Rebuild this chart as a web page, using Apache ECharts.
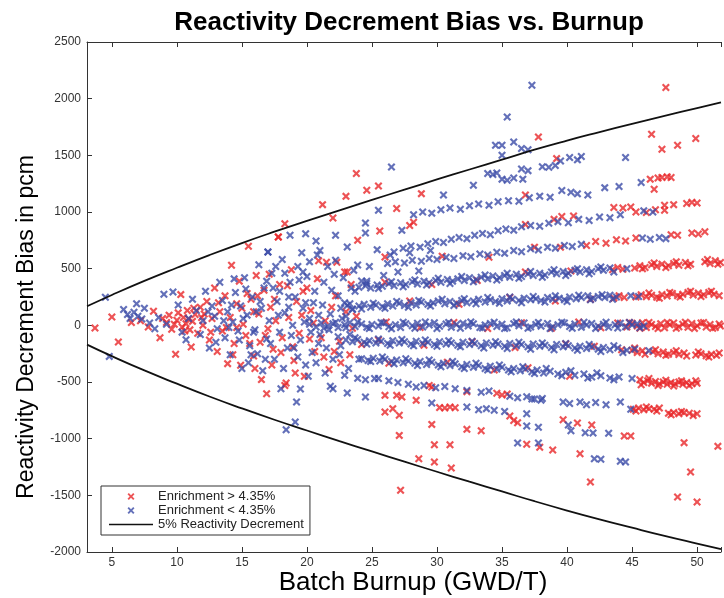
<!DOCTYPE html>
<html>
<head>
<meta charset="utf-8">
<script src="https://cdn.jsdelivr.net/npm/echarts@6/dist/echarts.min.js"></script>
<style>
html,body{margin:0;padding:0;background:#fff;}
#chart{width:724px;height:598px;}
</style>
</head>
<body>
<div id="chart"></div>
<script>
// burnup (GWD/T), bias (pcm)
const redCluster = [[3.7,-24],[5.0,74],[5.5,-147],[6.5,25],[7.2,40],[7.8,-15],[8.2,124],[8.7,-109],[8.9,60],[9.2,25],[9.4,90],[9.6,-35],[9.9,-256],[10.0,45],[10.1,110],[10.3,271],[10.4,-15],[10.5,70],[10.7,15],[10.8,130],[11.0,-40],[11.1,-191],[11.2,35],[11.4,95],[11.6,-70],[11.8,160],[12.0,0],[12.3,210],[12.5,-130],[12.7,60],[12.9,330],[13.1,-230],[13.3,120],[13.5,-50],[13.7,260],[13.9,-338],[14.1,70],[14.2,530],[14.4,-160],[14.6,190],[14.8,390],[14.9,-353],[15.1,10],[15.3,-90],[15.5,697],[15.7,230],[15.9,-270],[16.1,440],[16.3,100],[16.5,-479],[16.7,310],[16.9,-603],[17.0,-30],[17.2,160],[17.4,-210],[17.8,780],[17.9,360],[18.1,-110],[18.3,897],[18.3,-530],[18.4,-509],[18.6,70],[18.8,490],[19.0,-310],[19.2,210],[19.4,-70],[19.8,-450],[20.0,330],[20.3,130],[20.6,-230],[20.9,570],[21.4,40],[21.7,-390],[22.2,260],[22.5,-140],[22.9,470],[23.3,-260],[23.8,80],[21.5,556],[22.3,556],[23.1,470],
    [11.9,70],[12.6,-60],[13.2,200],[13.8,-20],[14.3,-260],[15.0,150],[15.6,-160],[16.2,260],[16.8,-90],[17.5,230],[18.0,-240],[18.5,350],[19.1,-420],[19.6,90],[20.2,-120],[20.8,410],[21.3,-280],[21.9,160],[22.6,-330],[23.4,360],[17.1,450],[16.0,-380],[9.8,10],[10.6,-50],[10.9,55],[11.3,150],[12.1,100],
    [14.6,-20],[15.4,280],[16.4,-150],[17.6,40],[18.9,-190],[19.7,300],[20.5,20],[21.1,-110],[22.1,-230],[23.0,120],[24.2,-170],[17.3,-350],[15.9,120]];
const blueCluster = [[4.5,247],[4.8,-274],[5.9,140],[6.2,95],[6.4,60],[6.7,115],[6.9,190],[7.0,80],[7.3,55],[7.5,150],[7.9,20],[8.3,-30],[8.6,70],[9.0,274],[9.2,10],[9.7,294],[10.1,180],[10.4,-60],[10.7,-127],[10.9,60],[11.2,230],[11.5,130],[11.8,-80],[12.0,40],[12.2,300],[12.5,-200],[12.7,170],[12.9,80],[13.1,-30],[13.3,380],[13.5,220],[13.7,-110],[13.9,120],[14.1,-260],[14.3,30],[14.5,290],[14.7,-50],[14.9,170],[15.0,-380],[15.2,420],[15.4,90],[15.6,-180],[15.8,250],[16.0,-40],[16.2,-250],[16.3,535],[16.5,150],[16.7,330],[16.9,-120],[17.0,647],[17.1,40],[17.3,460],[17.5,-300],[17.7,210],[17.9,-60],[18.0,-560],[18.1,580],[18.3,110],[18.5,-200],[18.7,380],[18.9,0],[19.1,250],[19.2,-677],[19.1,-853],[18.4,-921],[19.3,520],[19.5,-130],[19.5,-562],[19.7,150],[19.9,-350],[20.0,430],[20.2,60],[20.4,-240],[20.6,300],[20.8,620],[21.0,-80],[21.2,180],[21.4,-420],[21.6,520],[21.8,100],[22.0,-300],[22.2,574],[22.4,260],[22.6,-180],[22.8,420],[23.0,80],[23.2,-380],[23.4,330],[23.6,485],[23.9,533],[24.2,392],[24.6,390],[21.0,660],[20.2,560],[19.6,640],[21.8,-538],[22.0,-560],[23.1,-597],[24.5,-633],[23.9,-468],[24.5,-480],[25.2,-470],
    [12.4,120],[13.0,-150],[13.6,40],[14.2,180],[14.8,-130],[15.3,320],[15.9,-60],[16.4,210],[16.8,-300],[17.4,330],[17.8,90],[18.2,-380],[18.6,250],[19.0,-200],[19.4,400],[19.8,30],[20.1,-450],[20.5,200],[20.9,-160],[21.3,380],[21.7,-40],[22.1,450],[22.5,-260],[22.9,200],[23.3,-80],[23.7,300],[18.3,460],[19.7,470],[17.6,520],[16.6,-400],[15.5,-330],[14.4,410],[21.9,310],[22.7,60],[20.7,-330],
    [14.0,-20],[15.1,60],[16.1,120],[17.2,-160],[18.8,-90],[19.9,200],[20.9,90],[21.5,-200],[22.4,-100],[23.5,140],[24.0,-300],[17.9,300],[16.9,390],[15.7,-260],[20.3,-60],[19.3,-280],[18.6,160],[22.9,-440],
    [24.8,520],[25.9,440],[26.4,620],[27.0,470],[27.9,640],[28.6,480],[29.5,660]];
const redOutliers = [[17.8,780],[21.2,1065],[22.0,947],[23.0,1138],[23.8,1339],[23.9,750],[24.6,1192],[25.5,1230],[25.6,833],[26.0,603],[26.9,1030],[27.9,880],[28.2,910],[28.8,1162],[36.8,1150],[37.8,1662],[39.2,1471],[46.5,1686],[47.3,1553],[48.5,1589],[49.9,1648],[47.6,2098],[26.0,-765],[26.6,-735],[27.1,-794],[27.1,-971],[27.2,-1456],[28.6,-1177],[29.8,-1053],[29.8,-1206],[31.0,-1053],[31.1,-1259],[36.9,-1050],[37.9,-1075],[38.9,-1100],[41.0,-1133],[41.8,-1383],[49.0,-1035],[49.5,-1294],[48.5,-1515],[50.0,-1559],[51.6,-1068]];
const blueOutliers = [[17.0,647],[18.7,794],[19.9,809],[20.7,744],[22.2,794],[23.1,691],[24.5,903],[24.5,815],[25.4,668],[25.5,1015],[26.5,1397],[26.7,647],[27.3,838],[34.5,1589],[35.0,1589],[35.0,1500],[35.9,1618],[36.5,1560],[37.0,1550],[35.4,1838],[37.3,2118],[44.5,1480],[36.2,-1038],[37.8,-1038],[42.1,-1177],[42.6,-1182],[44.1,-1200],[44.5,-1206],[29.6,-686],[37.3,-650],[38.0,-660]];

const blueBand0 = [[20.2,10],[20.7,-15],[21.1,20],[21.6,-5],[22.0,15],[22.4,-20],[22.9,5],[23.3,25],[23.7,-10],[24.2,12],[24.6,-18],[25.0,8],[25.5,-5],[25.9,20],[26.3,-12],[26.8,6],[27.2,-20],[27.6,14],[28.1,-4],[28.5,18],[28.9,-14],[29.4,3],[29.8,22],[30.2,-9],[30.7,11],[31.1,-17],[31.5,7],[32.0,19],[32.4,-6],[32.8,13],[33.3,-19],[33.7,4],[34.1,16],[34.6,-11],[35.0,9],[35.4,-21],[35.9,15],[36.3,-3],[36.7,20],[37.2,-15],[37.6,8],[38.0,-7],[38.5,17],[38.9,-13],[39.3,5],[39.8,21],[40.2,-10],[40.6,12],[41.1,-18],[41.5,3],[41.9,16],[42.4,-8],[42.8,10],[43.2,-16],[43.7,6],[44.1,18],[44.5,-12],[45.0,4],[45.4,14],[45.9,-6],
    [21.3,-25],[22.2,28],[23.0,-22],[23.9,30],[24.8,-28],[25.7,25],[26.5,-30],[27.4,28],[28.3,-25],[29.1,30],[30.0,-28],[30.9,26],[31.8,-26],[32.6,30],[33.5,-24],[34.4,28],[35.2,-28],[36.1,30],[37.0,-26],[37.8,26],[38.7,-29],[39.6,28],[40.4,-25],[41.3,28],[42.2,-27],[43.0,28],[43.9,-24],[44.8,26],[45.6,-22]];
const redBand0 = [[23.5,-25],[26.1,30],[28.7,-20],[31.3,25],[33.9,-28],[36.5,22],[38.8,-25],[40.9,30],[42.6,-22],[43.9,20],[44.6,-15],[45.0,18],[45.4,-5],[45.8,22],[46.1,-20],[46.5,8],[46.8,-10],[47.2,15],[47.5,-22],[47.9,5],[48.2,20],[48.6,-12],[48.9,10],[49.3,-18],[49.6,16],[50.0,-4],[50.3,21],[50.7,-14],[51.0,7],[51.4,-20],[51.7,12],
    [44.8,25],[45.6,-25],[46.3,25],[47.0,-28],[47.7,26],[48.4,-26],[49.1,27],[49.8,-27],[50.5,25],[51.2,-25],[51.8,-5]];
const blueBandP1 = [[22.6,150],[23.1,175],[23.5,145],[24.0,170],[24.4,185],[24.9,160],[25.3,180],[25.8,165],[26.2,190],[26.6,170],[27.1,195],[27.5,175],[28.0,200],[28.4,180],[28.8,205],[29.3,185],[29.7,200],[30.1,215],[30.6,190],[31.0,210],[31.5,195],[31.9,220],[32.3,200],[32.8,215],[33.2,230],[33.7,205],[34.1,225],[34.5,210],[35.0,235],[35.4,215],[35.8,230],[36.3,220],[36.7,240],[37.2,225],[37.6,235],[38.0,220],[38.5,245],[38.9,230],[39.4,240],[39.8,225],[40.2,250],[40.7,235],[41.1,245],[41.6,260],[42.0,240],[42.4,255],[42.9,245],[43.3,265],[43.8,250],[44.9,262],[45.5,255],
    [23.3,190],[24.2,145],[25.1,195],[26.0,150],[26.9,210],[27.8,160],[28.6,220],[29.5,170],[30.4,230],[31.3,175],[32.1,235],[33.0,190],[33.9,245],[34.8,195],[35.6,250],[36.5,200],[37.4,255],[38.3,205],[39.1,260],[40.0,210],[40.9,265],[41.8,225],[42.7,270],[43.5,230]];
const redBandP1 = [[27.9,215],[31.7,185],[35.6,245],[39.1,215],[41.8,230],[43.6,240],[44.0,262],[44.4,245],[45.3,250],[45.7,270],[46.1,252],[46.5,265],[46.9,248],[47.3,272],[47.7,258],[48.1,280],[48.5,262],[48.9,275],[49.3,290],[49.7,268],[50.1,285],[50.5,270],[50.9,290],[51.3,275],
    [46.3,285],[47.1,240],[47.9,290],[48.7,250],[49.5,300],[50.3,255],[51.1,300],[51.7,262]];
const blueBandP2 = [[24.0,335],[24.5,350],[24.9,330],[25.4,355],[25.8,345],[26.3,370],[26.7,350],[27.2,375],[27.6,360],[28.1,385],[28.5,365],[29.0,390],[29.4,375],[29.9,395],[30.3,380],[30.8,405],[31.2,390],[31.6,410],[32.1,395],[32.5,420],[33.0,405],[33.4,425],[33.9,410],[34.3,435],[34.8,420],[35.2,440],[35.6,425],[36.1,450],[36.5,430],[37.0,455],[37.4,440],[37.9,460],[38.3,445],[38.8,470],[39.2,455],[39.7,475],[40.1,460],[40.6,485],[41.0,470],[41.5,490],[41.9,475],[42.4,500],[42.8,485],[43.3,505],[44.6,500],
    [24.6,370],[25.5,325],[26.5,385],[27.4,340],[28.3,400],[29.2,355],[30.1,415],[31.0,370],[31.9,430],[32.8,385],[33.7,445],[34.6,400],[35.4,460],[36.3,415],[37.2,475],[38.1,425],[39.0,490],[39.9,440],[40.8,500],[41.7,455],[42.6,515],[43.6,470]];
const redBandP2 = [[26.0,380],[29.6,360],[33.1,395],[36.8,470],[40.3,480],[43.5,490],[43.9,510],[44.3,495],[45.2,505],[45.6,525],[46.0,510],[46.5,535],[46.9,520],[47.3,540],[47.8,525],[48.2,545],[48.6,530],[49.1,555],[49.5,540],[50.6,560],[51.0,545],[51.4,570],[51.8,555],
    [45.8,500],[46.7,550],[47.6,510],[48.4,560],[49.3,525],[50.8,580],[51.6,540]];
const blueBandP3 = [[26.2,545],[26.8,560],[27.5,550],[28.1,575],[28.8,565],[29.4,590],[30.0,580],[30.7,600],[31.3,590],[32.0,615],[32.6,605],[33.3,630],[33.9,620],[34.6,645],[35.2,635],[35.9,660],[36.5,650],[37.2,675],[37.8,665],[38.5,690],[39.1,680],[39.8,705],[40.4,695],[41.1,715],[45.8,770],[46.4,760],[47.1,775],[47.6,765]];
const redBandP3 = [[30.4,610],[34.0,600],[37.5,690],[39.5,690],[41.5,705],[42.2,740],[43.0,725],[43.8,755],[44.5,745],[45.3,770],[48.0,800],[48.5,795],[49.6,815],[50.1,805],[50.6,825]];
const blueBandP4 = [[27.4,680],[28.0,700],[28.7,690],[29.3,720],[29.9,740],[30.5,730],[31.1,760],[31.7,775],[32.3,765],[32.9,795],[33.5,810],[34.1,800],[34.7,835],[35.3,850],[35.9,840],[36.5,870],[37.2,880],[37.9,875],[38.6,900],[39.3,915],[40.1,905],[40.9,935],[41.7,925],[42.5,955],[43.3,950],[44.1,975],[45.9,1010],[46.6,1000]];
const redBandP4 = [[36.8,890],[39.0,935],[39.6,960],[40.5,965],[43.6,1040],[44.3,1035],[44.9,1045],[45.3,1000],[46.1,995],[46.8,1020],[47.5,1015],[47.5,1060],[48.2,1065],[49.2,1075],[49.6,1085],[50.0,1080]];
const blueBandP5 = [[28.2,975],[28.9,1000],[29.6,990],[30.3,1020],[31.0,1035],[31.8,1025],[32.5,1055],[33.2,1070],[34.0,1060],[34.7,1090],[35.5,1100],[36.3,1095],[37.1,1125],[37.9,1140],[38.7,1130],[39.6,1190],[40.3,1175],[40.8,1160],[41.6,1150],[42.9,1215],[44.0,1225],[45.7,1260]];
const redBandP5 = [[46.4,1290],[46.7,1200],[47.0,1300],[47.3,1305],[47.7,1310],[48.0,1305]];
const blueBandP6 = [[30.5,1150],[32.8,1236],[33.9,1339],[34.3,1330],[34.6,1345],[35.0,1290],[35.4,1280],[35.9,1300],[36.5,1380],[36.6,1290],[37.0,1365],[38.1,1400],[38.6,1395],[39.1,1410],[39.5,1450],[40.2,1480],[40.8,1460],[41.1,1490]];
const blueBandM1 = [[23.0,-130],[23.5,-145],[23.9,-125],[24.4,-150],[24.8,-135],[25.3,-155],[25.7,-140],[26.2,-160],[26.6,-135],[27.1,-155],[27.5,-145],[28.0,-165],[28.4,-140],[28.9,-160],[29.3,-150],[29.8,-170],[30.2,-145],[30.7,-165],[31.1,-155],[31.6,-175],[32.0,-150],[32.5,-170],[32.9,-160],[33.4,-180],[33.8,-155],[34.3,-175],[34.7,-165],[35.2,-185],[35.6,-160],[36.1,-180],[36.5,-170],[37.0,-190],[37.4,-165],[37.9,-185],[38.3,-175],[38.8,-195],[39.2,-170],[39.7,-190],[40.1,-180],[40.6,-200],[41.0,-185],[41.5,-205],[41.9,-190],[42.4,-210],[42.8,-195],[43.3,-215],[43.9,-200],[44.6,-220],[45.2,-210],[46.3,-225],
    [23.7,-110],[24.6,-165],[25.5,-120],[26.4,-175],[27.3,-125],[28.2,-180],[29.1,-130],[30.0,-185],[30.9,-135],[31.8,-190],[32.7,-140],[33.6,-200],[34.5,-145],[35.4,-205],[36.3,-150],[37.2,-210],[38.1,-155],[39.0,-215],[39.9,-160],[40.8,-220],[41.7,-170],[42.6,-230],[43.6,-180],[44.3,-240]];
const redBandM1 = [[25.5,-130],[29.0,-175],[32.7,-145],[36.0,-195],[39.9,-165],[42.1,-185],[44.2,-215],[45.0,-220],[45.4,-240],[45.8,-225],[46.6,-230],[47.0,-250],[47.4,-235],[47.8,-255],[48.2,-240],[48.6,-258],[49.0,-245],[49.9,-262],[50.3,-250],[50.7,-268],[51.1,-255],[51.5,-265],
    [45.2,-200],[46.0,-255],[46.8,-215],[47.6,-265],[48.4,-225],[49.2,-270],[50.1,-235],[50.9,-280],[51.7,-245]];
const blueBandM2 = [[24.2,-295],[24.7,-310],[25.1,-290],[25.6,-315],[26.0,-300],[26.5,-320],[26.9,-305],[27.4,-330],[27.8,-315],[28.3,-335],[28.7,-320],[29.2,-345],[29.6,-325],[30.1,-350],[30.5,-335],[31.0,-355],[31.4,-340],[31.9,-365],[32.3,-345],[32.8,-370],[33.2,-355],[33.7,-380],[34.1,-360],[34.6,-385],[35.0,-370],[35.5,-395],[35.9,-380],[36.4,-400],[36.8,-385],[37.3,-410],[37.7,-395],[38.2,-420],[38.7,-405],[39.3,-430],[39.9,-415],[40.6,-440],[41.3,-430],[41.9,-455],[42.6,-445],[43.3,-465],[44.0,-455],[45.0,-470],
    [24.9,-320],[25.8,-280],[26.7,-340],[27.6,-295],[28.5,-355],[29.4,-305],[30.3,-365],[31.2,-320],[32.1,-380],[33.0,-335],[33.9,-395],[34.8,-350],[35.7,-410],[36.6,-365],[37.5,-425],[38.4,-380],[39.6,-445],[40.3,-400],[41.6,-465],[42.3,-420],[43.6,-480]];
const redBandM2 = [[26.3,-335],[30.8,-325],[34.4,-395],[37.0,-375],[40.2,-450],[45.6,-480],[45.9,-505],[46.2,-490],[46.5,-510],[46.8,-495],[47.1,-515],[47.4,-500],[47.7,-520],[48.0,-505],[48.3,-515],[48.6,-500],[48.9,-520],[49.2,-505],[49.6,-515],[50.0,-510],
    [45.7,-525],[46.3,-470],[47.0,-530],[47.6,-485],[48.2,-535],[48.8,-490],[49.4,-530],[49.9,-490]];
const blueBandM3 = [[25.5,-470],[26.3,-490],[27.0,-505],[27.8,-520],[28.4,-545],[29.0,-530],[29.9,-550],[30.6,-540],[31.4,-560],[32.3,-575],[33.4,-590],[34.0,-580],[35.6,-625],[36.2,-640],[36.9,-630],[37.5,-650],[38.1,-645],[39.7,-677],[40.2,-690],[41.0,-677],[41.5,-700],[42.2,-680],[43.0,-700],[44.1,-677],[44.9,-740]];
const redBandM3 = [[26.0,-618],[26.9,-618],[27.3,-633],[28.4,-662],[29.4,-530],[29.6,-545],[32.3,-585],[34.6,-600],[35.0,-615],[35.4,-605],[45.1,-740],[45.5,-730],[45.9,-745],[46.3,-735],[46.7,-740],[47.1,-730],[47.8,-775],[48.2,-770],[48.6,-780],[49.0,-770],[49.4,-775],[50.0,-780],
    [45.3,-755],[46.1,-720],[46.9,-755],[48.0,-790],[48.8,-760],[49.7,-795]];
const blueBandM4 = [[32.3,-720],[33.2,-745],[33.8,-735],[34.4,-750],[35.2,-760],[36.9,-780],[36.9,-888],[37.8,-900],[40.1,-880],[40.3,-930],[41.4,-947],[42.0,-950],[43.2,-953]];
const redBandM4 = [[29.6,-874],[30.2,-726],[30.6,-730],[31.0,-720],[31.4,-728],[32.3,-918],[33.4,-930],[35.6,-800],[35.9,-840],[36.2,-860],[39.7,-833],[40.8,-862],[41.9,-880],[44.4,-977],[44.9,-977]];

const upperLimit = [[3.09,168],[5,268],[7.5,392],[10,508],[12.5,620],[15,726],[17.5,826],[20,922],[22.5,1015],[25,1107],[27.5,1197],[30,1287],[32.5,1375],[35,1462],[37.5,1550],[40,1630],[42.5,1705],[45,1778],[47.5,1848],[50,1917],[51.84,1968]];
const lowerLimit = [[3.09,-170],[5,-272],[7.5,-398],[10,-515],[12.5,-628],[15,-733],[17.5,-833],[20,-928],[22.5,-1022],[25,-1113],[27.5,-1203],[30,-1292],[32.5,-1380],[35,-1466],[37.5,-1552],[40,-1634],[42.5,-1712],[45,-1786],[47.5,-1858],[50,-1926],[51.84,-1975]];

const redPoints = [].concat(redCluster, redOutliers, redBand0, redBandP1, redBandP2, redBandP3, redBandP4, redBandP5, redBandM1, redBandM2, redBandM3, redBandM4);
const bluePoints = [].concat(blueCluster, blueOutliers, blueBand0, blueBandP1, blueBandP2, blueBandP3, blueBandP4, blueBandP5, blueBandP6, blueBandM1, blueBandM2, blueBandM3, blueBandM4);

const FONT = "'Liberation Sans', Arial, Helvetica, sans-serif";
const CROSS = 'path://M0,1.9L1.9,0L5,3.1L8.1,0L10,1.9L6.9,5L10,8.1L8.1,10L5,6.9L1.9,10L0,8.1L3.1,5Z';
const xMin = 3.087, xMax = 51.84;

let chart = echarts.init(document.getElementById('chart'));
let axisTick = {inside: true, length: 5, lineStyle: {color: '#333'}};
let options = {
    animation: false,
    textStyle: {fontFamily: FONT},
    title: {
        text: 'Reactivity Decrement Bias vs. Burnup',
        left: 404, top: 5, textAlign: 'center',
        textStyle: {fontFamily: FONT, fontSize: 26, fontWeight: 'bold', color: '#000'}
    },
    grid: {left: 87, right: 0, top: 42, bottom: 46},
    legend: {
        orient: 'vertical', left: 101, top: 486,
        padding: [4, 6, 4, 8], itemGap: 1,
        itemWidth: 44, itemHeight: 7,
        backgroundColor: '#fff', borderColor: '#333', borderWidth: 1,
        textStyle: {fontFamily: FONT, fontSize: 13, color: '#222', lineHeight: 13},
        data: ['Enrichment > 4.35%', 'Enrichment < 4.35%',
            {name: '5% Reactivity Decrement', icon: 'path://M0,0H44V1.6H0Z'}]
    },
    xAxis: [{
        type: 'value', min: xMin, max: xMax, splitNumber: 10,
        axisLine: {onZero: false, lineStyle: {color: '#333'}},
        axisTick: axisTick,
        splitLine: {show: false},
        axisLabel: {
            fontFamily: FONT, fontSize: 12, color: '#333', margin: 5,
            formatter: v => (Math.abs(v % 5) < 1e-6 ? String(v) : '')
        }
    }, {
        type: 'value', position: 'top', min: xMin, max: xMax, splitNumber: 10,
        axisLine: {onZero: false, lineStyle: {color: '#333'}},
        axisTick: axisTick,
        splitLine: {show: false},
        axisLabel: {show: false}
    }],
    yAxis: {
        type: 'value', min: -2000, max: 2500, interval: 500,
        axisLine: {show: true, onZero: false, lineStyle: {color: '#333'}},
        axisTick: axisTick,
        splitLine: {show: false},
        axisLabel: {fontFamily: FONT, fontSize: 12, color: '#333', margin: 6, formatter: v => String(v)}
    },
    graphic: [{
        type: 'text', x: 413, y: 570,
        style: {text: 'Batch Burnup (GWD/T)', font: '26px ' + FONT, fill: '#000', textAlign: 'center', textVerticalAlign: 'top'}
    }, {
        type: 'text', x: 15, y: 327, rotation: Math.PI / 2,
        style: {text: 'Reactivity Decrement Bias in pcm', font: '23px ' + FONT, fill: '#000', textAlign: 'center', textVerticalAlign: 'top'}
    }],
    series: [{
        name: 'Enrichment > 4.35%', type: 'scatter', data: redPoints,
        symbol: CROSS, symbolSize: 8,
        itemStyle: {color: '#e8282b'}
    }, {
        name: 'Enrichment < 4.35%', type: 'scatter', data: bluePoints,
        symbol: CROSS, symbolSize: 8,
        itemStyle: {color: '#3c4ca8'}
    }, {
        name: '5% Reactivity Decrement', type: 'line', data: upperLimit,
        smooth: true, symbol: 'none',
        lineStyle: {color: '#111', width: 1.8}, itemStyle: {color: '#111'}
    }, {
        name: '5% Reactivity Decrement', type: 'line', data: lowerLimit,
        smooth: true, symbol: 'none',
        lineStyle: {color: '#111', width: 1.8}, itemStyle: {color: '#111'}
    }]
};
chart.setOption(options);
</script>
</body>
</html>
